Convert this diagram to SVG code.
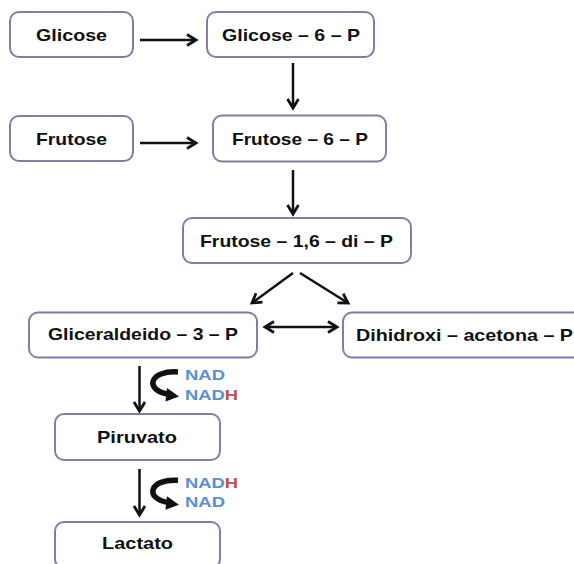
<svg xmlns="http://www.w3.org/2000/svg" width="574" height="564" viewBox="0 0 574 564">
<defs>
<style>
.box{fill:#ffffff;stroke:#8a78a8;stroke-width:2}
.lbl{font-family:"Liberation Sans",Arial,sans-serif;font-weight:bold;font-size:16.5px;fill:#111111}
.nad{font-family:"Liberation Sans",Arial,sans-serif;font-weight:bold;font-size:14px;fill:#5b8fd4}
.h{fill:#c0504d}
.arr{stroke:#111111;stroke-width:2.5;fill:none}
.curve{stroke:#111111;stroke-width:5.5;fill:none;stroke-linecap:butt}
</style>
<marker id="ah" markerUnits="userSpaceOnUse" markerWidth="16" markerHeight="16" refX="12" refY="7" orient="auto-start-reverse">
<path d="M3,1.5 L12,7 L3,12.5" fill="none" stroke="#111111" stroke-width="2.8" stroke-linejoin="miter"/>
</marker>
</defs>
<rect width="574" height="564" fill="#ffffff"/>

<g id="glicose">
<rect class="box" x="10" y="12" width="123" height="45" rx="9"/>
<text class="lbl" x="36" y="40.5" textLength="71" lengthAdjust="spacingAndGlyphs">Glicose</text>
</g>
<g id="glicose6p">
<rect class="box" x="207" y="12" width="167" height="45" rx="9"/>
<text class="lbl" x="222" y="40.5" textLength="138" lengthAdjust="spacingAndGlyphs">Glicose – 6 – P</text>
</g>
<g id="frutose">
<rect class="box" x="10" y="116" width="123" height="45" rx="9"/>
<text class="lbl" x="36" y="144.5" textLength="71" lengthAdjust="spacingAndGlyphs">Frutose</text>
</g>
<g id="frutose6p">
<rect class="box" x="213" y="115.5" width="173" height="46" rx="9"/>
<text class="lbl" x="232" y="144.5" textLength="136" lengthAdjust="spacingAndGlyphs">Frutose – 6 – P</text>
</g>
<g id="frutose16dip">
<rect class="box" x="183" y="218" width="228" height="45" rx="9"/>
<text class="lbl" x="200" y="246.5" textLength="193" lengthAdjust="spacingAndGlyphs">Frutose – 1,6 – di – P</text>
</g>
<g id="gliceraldeido3p">
<rect class="box" x="29" y="312.5" width="228" height="45" rx="9"/>
<text class="lbl" x="48" y="340" textLength="190" lengthAdjust="spacingAndGlyphs">Gliceraldeido – 3 – P</text>
</g>
<g id="dihidroxiacetonap">
<rect class="box" x="343" y="312.5" width="240" height="45" rx="9"/>
<text class="lbl" x="356" y="340.5" textLength="217" lengthAdjust="spacingAndGlyphs">Dihidroxi – acetona – P</text>
</g>
<g id="piruvato">
<rect class="box" x="55" y="414" width="165" height="46" rx="9"/>
<text class="lbl" x="97" y="442.5" textLength="80" lengthAdjust="spacingAndGlyphs">Piruvato</text>
</g>
<g id="lactato">
<rect class="box" x="55" y="522" width="165" height="46" rx="9"/>
<text class="lbl" x="102" y="549" textLength="71" lengthAdjust="spacingAndGlyphs">Lactato</text>
</g>

<g id="connectors">
<line class="arr" x1="140" y1="40" x2="196" y2="40" marker-end="url(#ah)"/>
<line class="arr" x1="140" y1="143" x2="196" y2="143" marker-end="url(#ah)"/>
<line class="arr" x1="293" y1="63" x2="293" y2="108" marker-end="url(#ah)"/>
<line class="arr" x1="293" y1="170" x2="293" y2="214" marker-end="url(#ah)"/>
<line class="arr" x1="293" y1="273" x2="252" y2="303" marker-end="url(#ah)"/>
<line class="arr" x1="300" y1="273" x2="348" y2="303" marker-end="url(#ah)"/>
<line class="arr" x1="265" y1="327" x2="337" y2="327" marker-start="url(#ah)" marker-end="url(#ah)"/>
<line class="arr" x1="139.5" y1="366" x2="139.5" y2="411" marker-end="url(#ah)"/>
<line class="arr" x1="139.5" y1="469" x2="139.5" y2="515" marker-end="url(#ah)"/>
<g id="cofactor1">
<path class="curve" d="M178,372 C150,370 143,390 169,394.5"/>
<polygon points="179,396.5 167,388 165.5,401.5" fill="#111111"/>
</g>
<g id="cofactor2" transform="translate(0,108.3)">
<path class="curve" d="M178,372 C150,370 143,390 169,394.5"/>
<polygon points="179,396.5 167,388 165.5,401.5" fill="#111111"/>
</g>
</g>

<g id="cofactor-labels">
<text class="nad" x="185" y="379.5" textLength="40" lengthAdjust="spacingAndGlyphs">NAD</text>
<text class="nad" x="185" y="400" textLength="53" lengthAdjust="spacingAndGlyphs">NAD<tspan class="h">H</tspan></text>
<text class="nad" x="185" y="487.5" textLength="53" lengthAdjust="spacingAndGlyphs">NAD<tspan class="h">H</tspan></text>
<text class="nad" x="185" y="507" textLength="40" lengthAdjust="spacingAndGlyphs">NAD</text>
</g>
</svg>
